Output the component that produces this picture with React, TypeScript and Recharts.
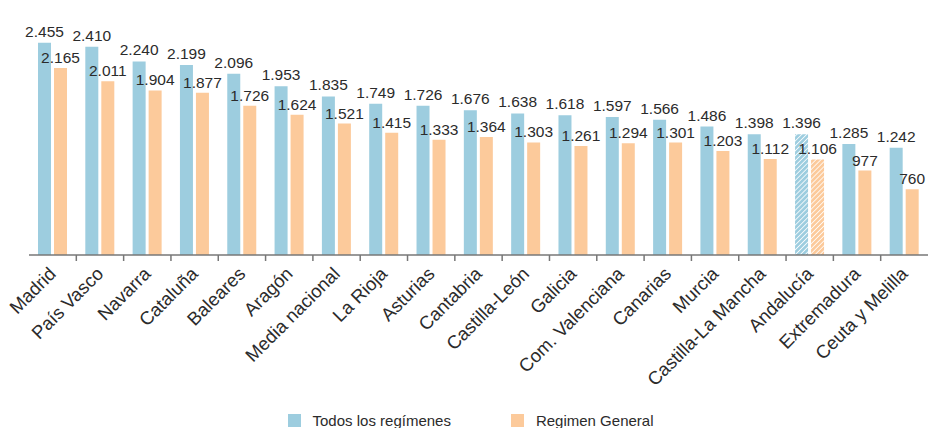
import React from "react";
import { BarChart, Bar, XAxis, YAxis, LabelList, Legend, Cell } from "recharts";

const categories = [
  "Madrid", "País Vasco", "Navarra", "Cataluña", "Baleares", "Aragón", "Media nacional",
  "La Rioja", "Asturias", "Cantabria", "Castilla-León", "Galicia", "Com. Valenciana",
  "Canarias", "Murcia", "Castilla-La Mancha", "Andalucía", "Extremadura", "Ceuta y Melilla",
];
const todosValues = [2455, 2410, 2240, 2199, 2096, 1953, 1835, 1749, 1726, 1676, 1638, 1618, 1597, 1566, 1486, 1398, 1396, 1285, 1242];
const generalValues = [2165, 2011, 1904, 1877, 1726, 1624, 1521, 1415, 1333, 1364, 1303, 1261, 1294, 1301, 1203, 1112, 1106, 977, 760];
const hatchedCategories = ["Andalucía"];
const seriesNames = ["Todos los regímenes", "Regimen General"];

const data = categories.map((c, i) => ({ name: c, todos: todosValues[i], general: generalValues[i] }));

const BLUE = "#9dcddf";
const ORANGE = "#fcca9b";
const FONT = "'Liberation Sans', Arial, Helvetica, sans-serif";
const W = 928;
const H = 428;
const ML = 29;
const MR = 0;
const BAND = (W - ML - MR) / categories.length;

const fmt = (v: any) => {
  const n = Number(v);
  const s = String(Math.round(n));
  return s.replace(/\B(?=(\d{3})+(?!\d))/g, ".");
};

const Tick = (props: any) => {
  const { x, y, payload, index } = props;
  return (
    <g>
      {index > 0 && (
        <line x1={x - BAND / 2} x2={x - BAND / 2} y1={y} y2={y + 6} stroke="#777" strokeWidth={1.5} />
      )}
      <g transform={`translate(${x + 4.5},${y + 20}) rotate(-45)`}>
        <text x={0} y={0} textAnchor="end" fontSize={18.5} fill="#2b2b2b" fontFamily={FONT}>
          {payload.value}
        </text>
      </g>
    </g>
  );
};

const LegendContent = () => (
  <div style={{ height: 33, display: "flex", justifyContent: "center", alignItems: "flex-end", fontFamily: FONT, fontSize: 15, color: "#2b2b2b", paddingRight: 16, boxSizing: "border-box" }}>
    {[BLUE, ORANGE].map((c, i) => (
      <div key={i} style={{ display: "flex", alignItems: "center", marginLeft: i ? 60 : 0, height: 18, marginBottom: -1 }}>
        <div style={{ width: 13, height: 13, background: c, marginRight: 12 }} />
        <span>{seriesNames[i]}</span>
      </div>
    ))}
  </div>
);

export default function App() {
  return (
    <div style={{ position: "absolute", left: 0, top: 0, width: W, height: H, background: "#fff" }}>
      <svg width={0} height={0} style={{ position: "absolute" }}>
        <defs>
          <pattern id="hatchBlue" width={3.5} height={3.5} patternUnits="userSpaceOnUse" patternTransform="rotate(45)">
            <rect width={3.5} height={3.5} fill={BLUE} />
            <line x1={0} y1={0} x2={0} y2={3.5} stroke="#fff" strokeWidth={1.6} />
          </pattern>
          <pattern id="hatchOrange" width={3.5} height={3.5} patternUnits="userSpaceOnUse" patternTransform="rotate(45)">
            <rect width={3.5} height={3.5} fill={ORANGE} />
            <line x1={0} y1={0} x2={0} y2={3.5} stroke="#fff" strokeWidth={1.6} />
          </pattern>
        </defs>
      </svg>
      <BarChart
        width={W}
        height={H}
        data={data}
        margin={{ top: 13, right: MR, left: ML, bottom: 0 }}
        barSize={13}
        barGap={3}
      >
        <YAxis hide domain={[0, 2800]} />
        <XAxis
          dataKey="name"
          interval={0}
          height={140}
          tickSize={0}
          tickMargin={0}
          tickLine={false}
          axisLine={{ stroke: "#777", strokeWidth: 1.5 }}
          tick={<Tick />}
        />
        <Legend verticalAlign="bottom" height={33} content={<LegendContent />} />
        <Bar dataKey="todos" name={seriesNames[0]} fill={BLUE} isAnimationActive={false}>
          {data.map((d, i) => (
            <Cell key={i} fill={hatchedCategories.includes(d.name) ? "url(#hatchBlue)" : BLUE} />
          ))}
          <LabelList dataKey="todos" position="top" offset={6} formatter={fmt} style={{ fontSize: 15.5, fill: "#2b2b2b", fontFamily: FONT }} />
        </Bar>
        <Bar dataKey="general" name={seriesNames[1]} fill={ORANGE} isAnimationActive={false}>
          {data.map((d, i) => (
            <Cell key={i} fill={hatchedCategories.includes(d.name) ? "url(#hatchOrange)" : ORANGE} />
          ))}
          <LabelList dataKey="general" position="top" offset={5} formatter={fmt} style={{ fontSize: 15.5, fill: "#2b2b2b", fontFamily: FONT }} />
        </Bar>
      </BarChart>
    </div>
  );
}
